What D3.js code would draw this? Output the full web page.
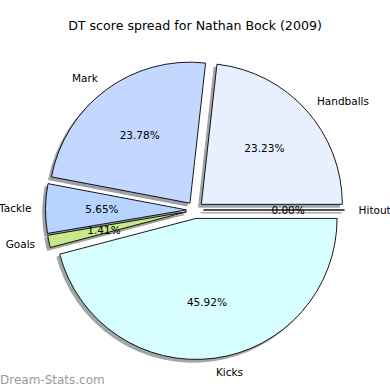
<!DOCTYPE html>
<html>
<head>
<meta charset="utf-8">
<script src="https://cdn.jsdelivr.net/npm/d3@7"></script>
<style>
    body { margin: 0; background: #fff; }
    text { font-family: "DejaVu Sans", sans-serif; }
</style>
</head>
<body>
<svg id="chart" width="390" height="390"></svg>
<script>
const categories = ["Handballs", "Mark", "Tackle", "Goals", "Kicks", "Hitout"];
const percents = [23.23, 23.78, 5.65, 1.41, 45.92, 0.0];
const colours = ["#e8f0ff", "#c4d8ff", "#b6d4ff", "#c8e88c", "#d8ffff", "#e8f0ff"];

const W = 390, H = 390;
const cx = 195, cy = 210;
const r = 141;
const explode = 8.5;
const shadowOff = 2.8;

const svg = d3.select("#chart");

svg.append("text")
    .attr("x", W / 2)
    .attr("y", 25)
    .attr("text-anchor", "middle")
    .attr("dominant-baseline", "central")
    .style("font-size", "12.6px")
    .text("DT score spread for Nathan Bock (2009)");

// matplotlib style: start at 3 o'clock, go counterclockwise
const pie = d3.pie()
    .sort(null)
    .value(d => d)
    .startAngle(Math.PI / 2)
    .endAngle(Math.PI / 2 - 2 * Math.PI);

const arcs = pie(percents);
const arc = d3.arc().innerRadius(0).outerRadius(r);

function offsetOf(a, dist) {
    let mid = (a.startAngle + a.endAngle) / 2;
    return [Math.sin(mid) * dist, -Math.cos(mid) * dist];
}

function shadowColour(c) {
    let col = d3.rgb(c);
    let f = v => Math.round(v * 0.3 * 0.5 + 255 * 0.5);
    return d3.rgb(f(col.r), f(col.g), f(col.b)).toString();
}

const g = svg.append("g").attr("transform", `translate(${cx},${cy})`);

// shadows first
g.selectAll("path.shadow")
    .data(arcs)
    .join("path")
    .attr("class", "shadow")
    .attr("d", arc)
    .attr("transform", a => {
        let [ox, oy] = offsetOf(a, explode);
        return `translate(${ox - shadowOff},${oy + shadowOff})`;
    })
    .attr("fill", (a, i) => shadowColour(colours[i]))
    .attr("stroke", (a, i) => shadowColour(colours[i]))
    .attr("stroke-width", 1);

g.selectAll("path.wedge")
    .data(arcs)
    .join("path")
    .attr("class", "wedge")
    .attr("d", arc)
    .attr("transform", a => {
        let [ox, oy] = offsetOf(a, explode);
        return `translate(${ox},${oy})`;
    })
    .attr("fill", (a, i) => colours[i])
    .attr("stroke", "#000")
    .attr("stroke-width", 0.9)
    .attr("stroke-linejoin", "round");

// category labels
g.selectAll("text.label")
    .data(arcs)
    .join("text")
    .attr("class", "label")
    .each(function(a, i) {
        let [x, y] = offsetOf(a, explode + 1.1 * r);
        d3.select(this)
            .attr("x", x)
            .attr("y", y)
            .attr("text-anchor", x > 0.01 ? "start" : "end");
    })
    .attr("dominant-baseline", "central")
    .style("font-size", "10.5px")
    .text((a, i) => categories[i]);

// percentage labels
g.selectAll("text.pct")
    .data(arcs)
    .join("text")
    .attr("class", "pct")
    .each(function(a) {
        let [x, y] = offsetOf(a, explode + 0.6 * r);
        d3.select(this).attr("x", x).attr("y", y);
    })
    .attr("text-anchor", "middle")
    .attr("dominant-baseline", "central")
    .style("font-size", "10.5px")
    .text((a, i) => percents[i].toFixed(2) + "%");

svg.append("text")
    .attr("x", 0)
    .attr("y", 380)
    .attr("dominant-baseline", "central")
    .style("font-size", "12px")
    .style("fill", "#9a9a9a")
    .text("Dream-Stats.com");
</script>
</body>
</html>
